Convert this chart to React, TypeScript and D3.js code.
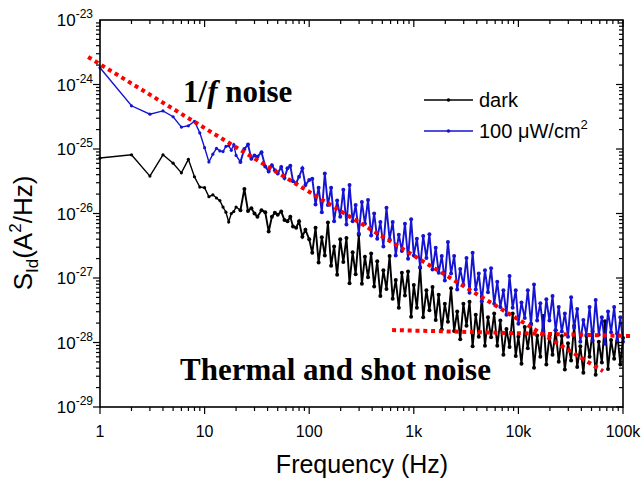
import React from "react";
import * as d3 from "d3";

// frequency grid (Hz)
const freq = [
  1, 2, 3, 4, 5, 6, 7, 8, 9, 10, 11, 12, 13, 14, 15, 16, 17, 18, 19, 20,
  22, 24, 26, 28, 30, 32, 35, 38, 41, 44, 47, 50, 54, 58, 62, 66, 70, 75, 80, 86, 92, 100,
  107, 115, 123, 132, 141, 151, 162, 173, 185, 198, 212, 227, 243, 260, 278, 298, 319, 341,
  365, 391, 418, 447, 479, 512, 548, 587, 628, 672, 719, 769, 823, 881, 943, 1000,
  1070, 1150, 1230, 1320, 1410, 1510, 1620, 1730, 1850, 1980, 2120, 2270, 2430, 2600, 2780,
  2980, 3190, 3410, 3650, 3910, 4180, 4470, 4790, 5120, 5480, 5870, 6280, 6720, 7190, 7690,
  8230, 8810, 9430, 10000,
  10700, 11500, 12300, 13200, 14100, 15100, 16200, 17300, 18500, 19800, 21200, 22700, 24300,
  26000, 27800, 29800, 31900, 34100, 36500, 39100, 41800, 44700, 47900, 51200, 54800, 58700,
  62800, 67200, 71900, 76900, 82300, 88100, 94300, 100000,
];

// log10 of S_Id (A^2/Hz), dark
const darkExp = [
  -25.14, -25.09, -25.42, -25.09, -25.22, -25.37, -25.16, -25.43, -25.59, -25.6,
  -25.74, -25.71, -25.76, -25.8, -25.9, -25.98, -26.13, -26.0, -25.97, -25.9,
  -25.95, -25.62, -25.96, -25.92, -26.0, -26.05, -25.95, -25.98, -26.28, -26.05, -25.99,
  -26.02, -25.97, -26.1, -26.12, -26.05, -26.2, -26.22, -26.12, -26.36, -26.25, -26.4,
  -26.61, -26.22, -26.76, -26.37, -26.65, -26.14, -26.81, -26.51, -26.95, -26.4,
  -26.75, -26.38, -27.08, -26.6, -26.94, -26.33, -27.09, -26.67, -26.99, -26.62,
  -27.13, -26.74, -27.28, -26.88, -27.17, -26.66, -27.32, -27.03, -27.46, -26.92,
  -27.27, -26.9, -27.6, -27.11,
  -27.46, -26.84, -27.61, -27.19, -27.5, -27.14, -27.65, -27.26, -27.8, -27.4,
  -27.68, -27.16, -27.82, -27.52, -27.95, -27.4, -27.74, -27.37, -28.06, -27.57,
  -27.91, -27.29, -28.05, -27.61, -27.92, -27.55, -28.05, -27.66, -28.19, -27.79,
  -28.07, -27.55, -28.21, -27.91,
  -28.33, -27.76, -28.09, -27.71, -28.39, -27.89, -28.22, -27.59, -28.34, -27.9,
  -28.19, -27.81, -28.3, -27.9, -28.42, -28.01, -28.28, -27.74, -28.38, -28.06,
  -28.47, -27.9, -28.22, -27.83, -28.5, -27.99, -28.31, -27.67, -28.41, -27.96,
  -28.25, -27.86, -28.34, -27.93,
];

// log10 of S_Id (A^2/Hz), 100 uW/cm2
const lightExp = [
  -23.74, -24.33, -24.46, -24.41, -24.5, -24.66, -24.64, -24.57, -24.75, -24.98,
  -25.2, -25.08, -24.99, -25.03, -25.04, -24.96, -24.95, -25.02, -24.93, -25.1,
  -25.2, -25.0, -24.93, -25.15, -25.1, -25.12, -25.05, -25.27, -25.35, -25.25, -25.33,
  -25.38, -25.28, -25.45, -25.3, -25.26, -25.5, -25.53, -25.43, -25.3, -25.56, -25.48,
  -25.46, -25.86, -25.6, -25.98, -25.38, -25.87, -25.6, -26.12, -25.8, -26.05,
  -25.63, -26.17, -25.56, -26.12, -25.87, -26.31, -25.82, -26.16, -25.79, -26.34,
  -26.0, -26.39, -26.13, -26.51, -25.91, -26.4, -26.13, -26.65, -26.33, -26.58,
  -26.16, -26.7, -26.09, -26.65,
  -26.39, -26.83, -26.35, -26.69, -26.32, -26.87, -26.53, -26.92, -26.66, -27.04,
  -26.44, -26.93, -26.66, -27.18, -26.86, -27.11, -26.69, -27.23, -26.61, -27.18,
  -26.93, -27.36, -26.88, -27.22, -26.85, -27.4, -27.06, -27.45, -27.19, -27.57,
  -26.97, -27.46, -27.19, -27.71,
  -27.38, -27.62, -27.19, -27.72, -27.1, -27.66, -27.39, -27.82, -27.33, -27.66,
  -27.28, -27.81, -27.45, -27.83, -27.55, -27.91, -27.3, -27.77, -27.48, -27.99,
  -27.65, -27.88, -27.45, -27.97, -27.34, -27.88, -27.61, -28.02, -27.52, -27.84,
  -27.45, -27.98, -27.61, -27.99,
];

// fitted guide lines [frequency, S_Id]
const fitOneOverF = [
  [0.77, 2.67e-24],
  [64400, 3.6e-29],
];
const fitWhite = [
  [620, 1.56e-28],
  [117000, 1.26e-28],
];

const xTickLabels = ["1", "10", "100", "1k", "10k", "100k"];
const yExponents = [-29, -28, -27, -26, -25, -24, -23];

const seriesNames = ["dark", "100 μW/cm"];
const seriesColors = ["#000000", "#1414d2"];

const W = 644;
const H = 481;
const plot = { left: 100, right: 623, top: 20, bottom: 407 };

export default function App() {
  const x = d3.scaleLog().domain([1, 1e5]).range([plot.left, plot.right]);
  const y = d3.scaleLog().domain([1e-29, 1e-23]).range([plot.bottom, plot.top]);

  const series = [darkExp, lightExp].map((exps) =>
    freq.map((f, i) => [f, Math.pow(10, exps[i])] as [number, number])
  );

  const line = d3
    .line<[number, number]>()
    .x((d) => x(d[0]))
    .y((d) => y(d[1]));

  const isDecade = (v: number) => Math.abs(Math.log10(v) - Math.round(Math.log10(v))) < 1e-6;

  const xTicks = x.ticks();
  const yTicks = y.ticks();

  const sans = "'Liberation Sans', Arial, sans-serif";
  const serif = "'Liberation Serif', 'Times New Roman', serif";

  return (
    <svg
      width={W}
      height={H}
      style={{ position: "absolute", left: 0, top: 0, background: "#fff" }}
      fontFamily={sans}
    >
      <rect width={W} height={H} fill="#fff" />

      {/* data: thin line below 20 Hz, dense noisy band above */}
      {series.map((pts, si) => (
        <g key={si}>
          <path d={line(pts.slice(0, 21)) || ""} fill="none" stroke={seriesColors[si]} strokeWidth={1.4} />
          <path d={line(pts.slice(20)) || ""} fill="none" stroke={seriesColors[si]} strokeWidth={1.9} />
          {pts.map((d, i) => (
            <circle key={i} cx={x(d[0])} cy={y(d[1])} r={i < 20 ? 1.6 : 2} fill={seriesColors[si]} />
          ))}
        </g>
      ))}

      {/* fit lines */}
      {[fitOneOverF, fitWhite].map((fit, i) => (
        <path
          key={i}
          d={line(fit as [number, number][]) || ""}
          fill="none"
          stroke="#ff0000"
          strokeWidth={4}
          strokeDasharray="4 3.8"
        />
      ))}

      {/* frame */}
      <rect
        x={plot.left}
        y={plot.top}
        width={plot.right - plot.left}
        height={plot.bottom - plot.top}
        fill="none"
        stroke="#000"
        strokeWidth={1.6}
      />

      {/* x ticks */}
      {xTicks.map((t, i) => {
        const len = isDecade(t) ? 7 : 4;
        const px = x(t);
        return (
          <g key={"x" + i} stroke="#000" strokeWidth={1.2}>
            <line x1={px} x2={px} y1={plot.bottom} y2={plot.bottom + len} />
            <line x1={px} x2={px} y1={plot.top} y2={plot.top + len} />
          </g>
        );
      })}
      {xTickLabels.map((lab, i) => (
        <text key={"xl" + i} x={x(Math.pow(10, i))} y={437} fontSize={16} textAnchor="middle">
          {lab}
        </text>
      ))}

      {/* y ticks */}
      {yTicks.map((t, i) => {
        const len = isDecade(t) ? 7 : 4;
        const py = y(t);
        return (
          <g key={"y" + i} stroke="#000" strokeWidth={1.2}>
            <line x1={plot.left - len} x2={plot.left} y1={py} y2={py} />
            <line x1={plot.right - len} x2={plot.right} y1={py} y2={py} />
          </g>
        );
      })}
      {yExponents.map((e) => (
        <text key={"yl" + e} x={93} y={y(Math.pow(10, e)) + 6} fontSize={17} textAnchor="end">
          10
          <tspan dy={-8} fontSize={12}>
            {String(e)}
          </tspan>
        </text>
      ))}

      {/* axis titles */}
      <text x={362} y={473} fontSize={25} textAnchor="middle">
        Frequency (Hz)
      </text>
      <text transform="translate(32,233) rotate(-90)" fontSize={26} textAnchor="middle">
        S
        <tspan dy={6} fontSize={17}>
          Id
        </tspan>
        <tspan dy={-6}>(A</tspan>
        <tspan dy={-11} fontSize={17}>
          2
        </tspan>
        <tspan dy={11}>/Hz)</tspan>
      </text>

      {/* annotations */}
      <text x={183} y={102} fontSize={31} fontWeight="bold" fontFamily={serif}>
        1/<tspan fontStyle="italic">f</tspan> noise
      </text>
      <text x={180} y={380} fontSize={31} fontWeight="bold" fontFamily={serif}>
        Thermal and shot noise
      </text>

      {/* legend */}
      {seriesNames.map((name, i) => {
        const ly = 100 + i * 31;
        return (
          <g key={"lg" + i}>
            <line x1={424} x2={473} y1={ly} y2={ly} stroke={seriesColors[i]} strokeWidth={1.5} />
            <circle cx={448.5} cy={ly} r={1.8} fill={seriesColors[i]} />
            <text x={479} y={ly + 7} fontSize={20}>
              {name}
              {i === 1 ? (
                <tspan dy={-9} fontSize={13}>
                  2
                </tspan>
              ) : null}
            </text>
          </g>
        );
      })}
    </svg>
  );
}
